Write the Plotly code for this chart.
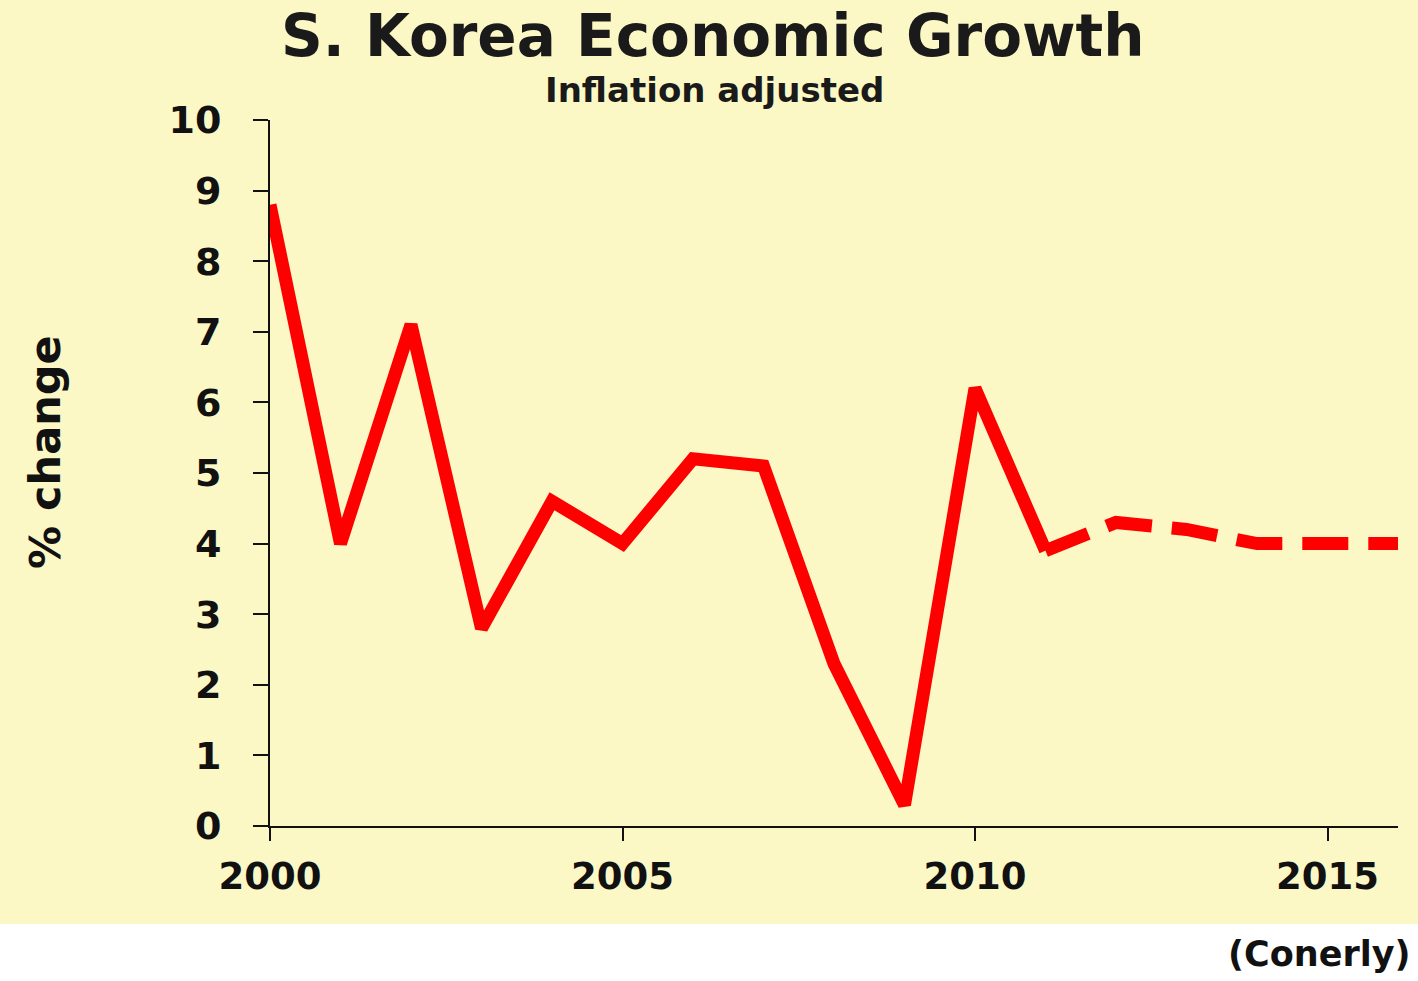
import plotly.graph_objects as go

# ---- data ----
years_actual = [2000, 2001, 2002, 2003, 2004, 2005, 2006, 2007, 2008, 2009, 2010, 2011]
growth_actual = [8.8, 4.0, 7.1, 2.8, 4.6, 4.0, 5.2, 5.1, 2.3, 0.3, 6.2, 3.9]
years_forecast = [2011, 2012, 2013, 2014, 2015, 2016]
growth_forecast = [3.9, 4.3, 4.2, 4.0, 4.0, 4.0]
x_tick_vals = [2000, 2005, 2010, 2015]
y_tick_vals = list(range(0, 11))

W, H = 1418, 981
L, R, T, B = 270, 1398, 120, 826  # plot area pixel edges

def px(xp):
    return (xp - L) / (R - L)

def py(yp):
    return (B - yp) / (B - T)

YELLOW = "#FBF8C6"
FONT = "DejaVu Sans"
RED = "#FF0000"
INK = "#111111"

fig = go.Figure()
fig.add_trace(go.Scatter(x=years_actual, y=growth_actual, mode="lines",
                         line=dict(color=RED, width=13), showlegend=False,
                         hoverinfo="skip"))
fig.add_trace(go.Scatter(x=years_forecast, y=growth_forecast, mode="lines",
                         line=dict(color=RED, width=13, dash="46px,20px"),
                         showlegend=False, hoverinfo="skip"))

fig.update_layout(
    width=W, height=H,
    margin=dict(l=L, r=W - R, t=T, b=H - B, pad=0),
    paper_bgcolor=YELLOW,
    plot_bgcolor=YELLOW,
    font=dict(family=FONT, color=INK),
    showlegend=False,
)

fig.update_xaxes(range=[2000, 2016], tickvals=x_tick_vals,
                 ticktext=[f"<b>{v}</b>" for v in x_tick_vals],
                 showgrid=False, zeroline=False, showline=True,
                 linecolor=INK, linewidth=2, ticks="outside",
                 ticklen=13, tickwidth=2, tickcolor=INK,
                 tickfont=dict(family=FONT, size=37, color=INK),
                 ticklabelstandoff=4)
fig.update_yaxes(range=[0, 10], tickvals=y_tick_vals,
                 ticktext=[f"<b>{v}</b>" for v in y_tick_vals],
                 showgrid=False, zeroline=False, showline=True,
                 linecolor=INK, linewidth=2, ticks="outside",
                 ticklen=15, tickwidth=2, tickcolor=INK,
                 tickfont=dict(family=FONT, size=38, color=INK),
                 ticklabelstandoff=24)

# white band at the bottom
fig.add_shape(type="rect", xref="paper", yref="paper",
              x0=px(-10), x1=px(W + 10), y0=py(H + 10), y1=py(924),
              fillcolor="white", line=dict(width=0), layer="below")

texts = [
    dict(text="<b>S. Korea Economic Growth</b>", x=px(713), y=py(36),
         xanchor="center", font=dict(family=FONT, size=58, color="#1a1a1a")),
    dict(text="<b>Inflation adjusted</b>", x=px(714), y=py(90),
         xanchor="center", font=dict(family=FONT, size=34, color="#1a1a1a")),
    dict(text="<b>% change</b>", x=px(45), y=py(452), textangle=-90,
         xanchor="center", font=dict(family=FONT, size=43, color=INK)),
    dict(text="<b>(Conerly)</b>", x=px(1412), y=py(954),
         xanchor="right", font=dict(family=FONT, size=35, color=INK)),
]
for t in texts:
    fig.add_annotation(xref="paper", yref="paper", showarrow=False,
                       yanchor="middle", **t)

fig.write_html("out.html", config={"displayModeBar": False},
               post_script="document.body.style.margin='0';document.body.style.overflow='hidden';")
